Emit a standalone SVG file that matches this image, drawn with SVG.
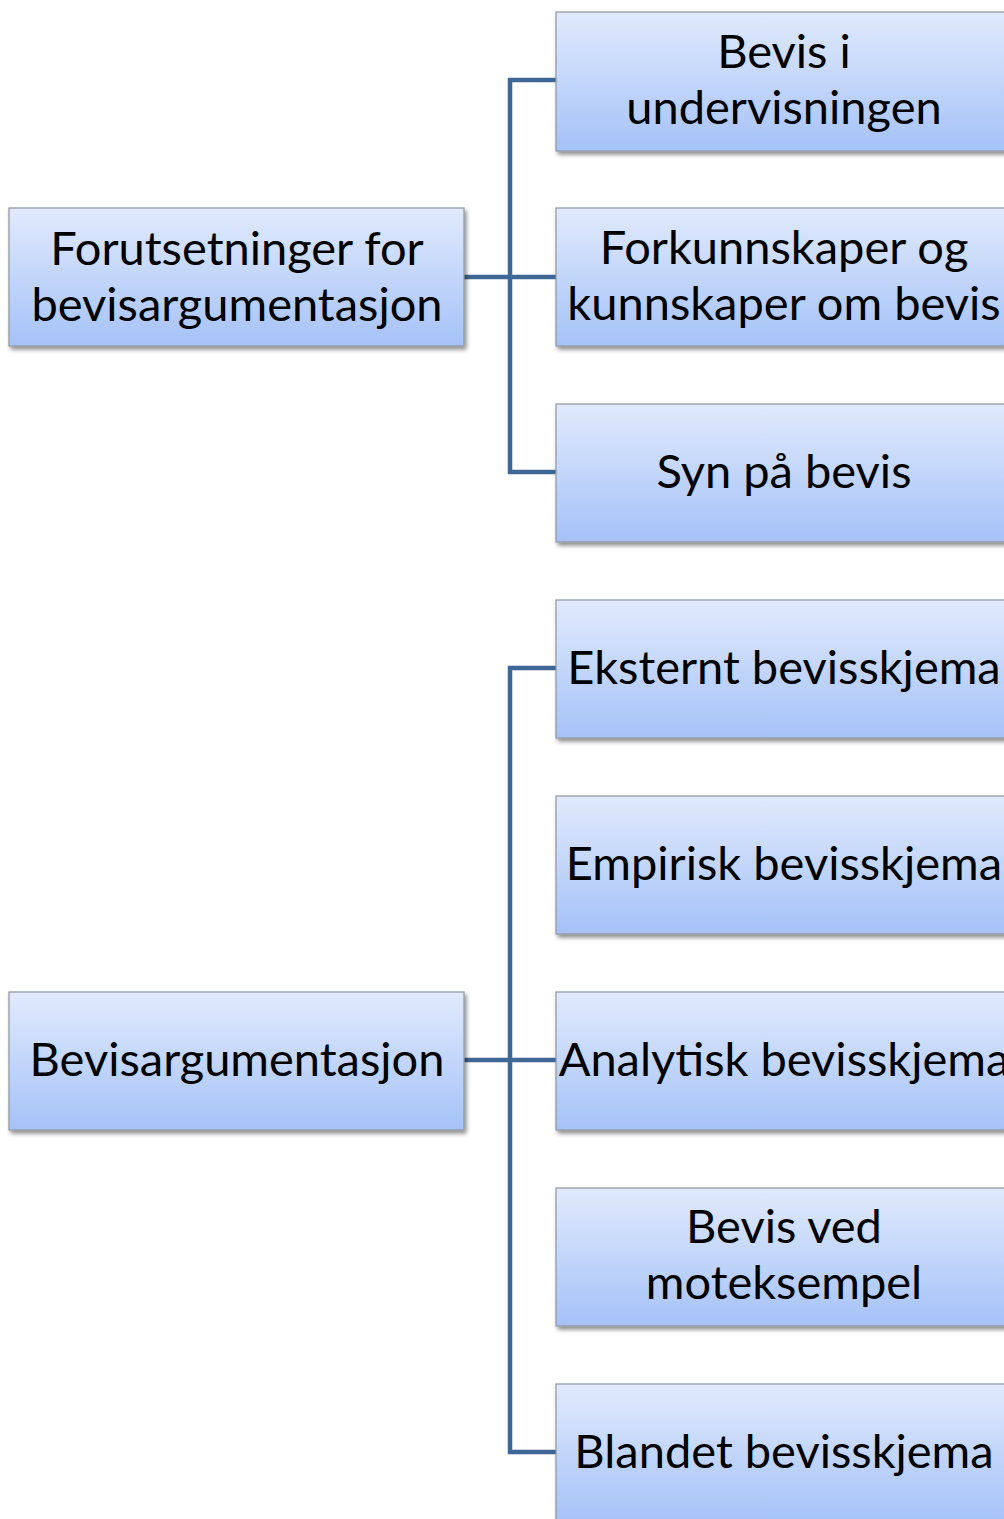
<svg xmlns="http://www.w3.org/2000/svg" width="1004" height="1519" viewBox="0 0 1004 1519">
<defs>
<linearGradient id="g" x1="0" y1="0" x2="0" y2="1">
<stop offset="0" stop-color="#E1EAFC"/>
<stop offset="1" stop-color="#A5C2F8"/>
</linearGradient>
<filter id="sh" x="-5%" y="-5%" width="115%" height="120%">
<feGaussianBlur in="SourceAlpha" stdDeviation="2"/>
<feOffset dx="2" dy="3"/>
<feComponentTransfer><feFuncA type="linear" slope="0.45"/></feComponentTransfer>
<feMerge><feMergeNode/><feMergeNode in="SourceGraphic"/></feMerge>
</filter>
</defs>
<style>
.box{fill:url(#g);stroke:#8E959E;stroke-width:1.2;filter:url(#sh)}
.t{font-family:Lato,"Open Sans",sans-serif;font-size:47px;fill:#000;text-anchor:middle}
.c{fill:none;stroke:#3F6796;stroke-width:4.5}
</style>
<g id="connectors">
<path class="c" d="M556,80 H510 V472 H556 M464,277 H556"/>
<path class="c" d="M556,668 H510 V1452 H556 M464,1060 H556"/>
</g>
<g id="n1"><rect class="box" x="9" y="208" width="455" height="138"/>
<text class="t" x="237" y="265">Forutsetninger for</text><text class="t" x="237" y="321">bevisargumentasjon</text></g>
<g id="n2"><rect class="box" x="9" y="992" width="455" height="138"/>
<text class="t" x="237" y="1076">Bevisargumentasjon</text></g>
<g id="r1"><rect class="box" x="556" y="12" width="456" height="139"/>
<text class="t" x="784" y="68">Bevis i</text><text class="t" x="784" y="124">undervisningen</text></g>
<g id="r2"><rect class="box" x="556" y="208" width="456" height="138"/>
<text class="t" x="784" y="264">Forkunnskaper og</text><text class="t" x="784" y="320">kunnskaper om bevis</text></g>
<g id="r3"><rect class="box" x="556" y="404" width="456" height="138"/>
<text class="t" x="784" y="488">Syn på bevis</text></g>
<g id="r4"><rect class="box" x="556" y="600" width="456" height="138"/>
<text class="t" x="784" y="684">Eksternt bevisskjema</text></g>
<g id="r5"><rect class="box" x="556" y="796" width="456" height="138"/>
<text class="t" x="784" y="880">Empirisk bevisskjema</text></g>
<g id="r6"><rect class="box" x="556" y="992" width="456" height="138"/>
<text class="t" x="784" y="1076">Analytisk bevisskjema</text></g>
<g id="r7"><rect class="box" x="556" y="1188" width="456" height="138"/>
<text class="t" x="784" y="1243">Bevis ved</text><text class="t" x="784" y="1299">moteksempel</text></g>
<g id="r8"><rect class="box" x="556" y="1384" width="456" height="138"/>
<text class="t" x="784" y="1468">Blandet bevisskjema</text></g>
</svg>
